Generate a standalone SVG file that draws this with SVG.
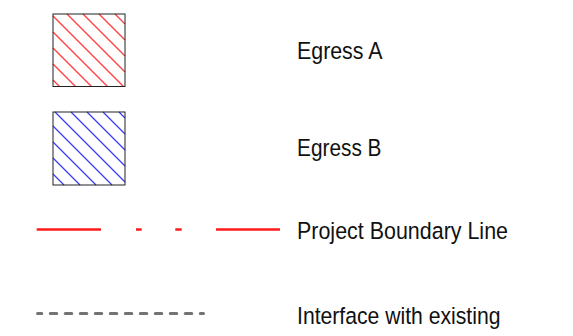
<svg xmlns="http://www.w3.org/2000/svg" width="573" height="336" viewBox="0 0 573 336">
  <style>
    .box { stroke: #222; stroke-width: 1; fill: none; }
    .hatch-red { stroke: #ff3b3b; stroke-width: 1.3; fill: none; }
    .hatch-blue { stroke: #3b3bff; stroke-width: 1.3; fill: none; }
    .label { font-family: "Liberation Sans", Arial, sans-serif; font-size: 24.5px; fill: #111; }
    .boundary { stroke: #ff1a1a; stroke-width: 2.6; fill: none; }
    .interface { stroke: #737373; stroke-width: 3; stroke-linecap: round; stroke-dasharray: 6.5 8.5; fill: none; }
  </style>

  <rect width="573" height="336" fill="#ffffff"/>

  <g id="egress-a">
    <path class="hatch-red" d="M53,80 L59.5,86.5 M53,64 L75.5,86.5 M53,48 L91.5,86.5 M53,32 L107.5,86.5 M53,16 L123.5,86.5 M67,14 L125,72 M83,14 L125,56 M99,14 L125,40 M115,14 L125,24"/>
    <rect class="box" x="53" y="14" width="72" height="72.5"/>
    <text class="label" x="297" y="58.8" textLength="85.5" lengthAdjust="spacingAndGlyphs">Egress A</text>
  </g>

  <g id="egress-b">
    <path class="hatch-blue" d="M53,174 L64,185 M53,158 L80,185 M53,142 L96,185 M53,126 L112,185 M55,112 L125,182 M71,112 L125,166 M87,112 L125,150 M103,112 L125,134 M119,112 L125,118"/>
    <rect class="box" x="53" y="112" width="72" height="73"/>
    <text class="label" x="297" y="156.2" textLength="84.5" lengthAdjust="spacingAndGlyphs">Egress B</text>
  </g>

  <g id="connectors">
    <g id="project-boundary-line">
      <path class="boundary" d="M36.7,229.5 H101 M136,229.5 H141.7 M175.3,229.5 H181.7 M216,229.5 H280"/>
    </g>
    <g id="interface-line">
      <line class="interface" x1="37.5" y1="313.5" x2="203.5" y2="313.5" stroke-dashoffset="2.2"/>
    </g>
  </g>

  <g id="legend-boundary">
    <text class="label" x="297" y="239.3" textLength="211" lengthAdjust="spacingAndGlyphs">Project Boundary Line</text>
  </g>

  <g id="legend-interface">
    <text class="label" x="297" y="324.3" textLength="203.5" lengthAdjust="spacingAndGlyphs">Interface with existing</text>
  </g>
</svg>
